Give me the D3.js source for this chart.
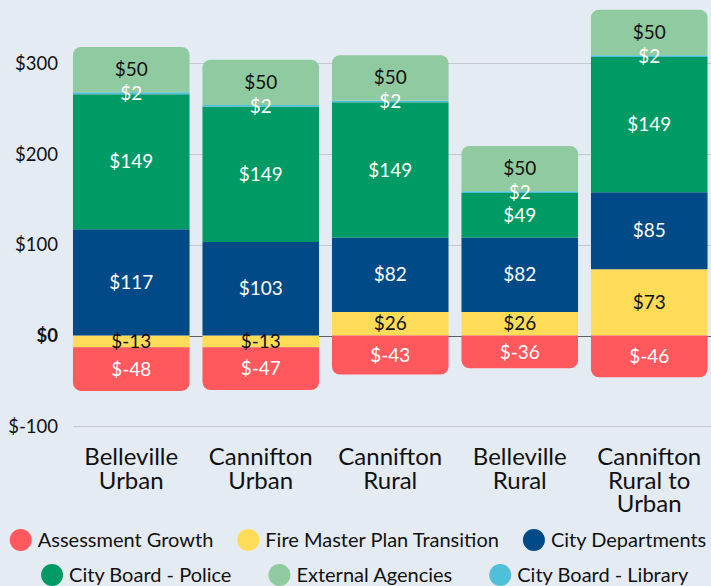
<!DOCTYPE html>
<html>
<head>
<script src="https://d3js.org/d3.v7.min.js"></script>
<style>
  html, body { margin: 0; padding: 0; background: #e4ebf3; }
  svg { display: block; font-family: "Lato", "Noto Sans", sans-serif; }
</style>
</head>
<body>
<svg width="711" height="586"></svg>
<script>
"use strict";

// data
var categories = ["Belleville Urban", "Cannifton Urban", "Cannifton Rural", "Belleville Rural", "Cannifton Rural to Urban"];
var assessmentGrowth = [-48, -47, -43, -36, -46];
var fireMasterPlan   = [-13, -13, 26, 26, 73];
var cityDepartments  = [117, 103, 82, 82, 85];
var cityPolice       = [149, 149, 149, 49, 149];
var cityLibrary      = [2, 2, 2, 2, 2];
var externalAgencies = [50, 50, 50, 50, 50];
var yTicks = [-100, 0, 100, 200, 300];

var series = [
    {key: "Fire Master Plan Transition", values: fireMasterPlan, color: "#ffdc57", text: "#111"},
    {key: "City Departments", values: cityDepartments, color: "#004b87", text: "#fff"},
    {key: "City Board - Police", values: cityPolice, color: "#009a64", text: "#fff"},
    {key: "City Board - Library", values: cityLibrary, color: "#50bfd8", text: "#fff"},
    {key: "External Agencies", values: externalAgencies, color: "#90caa0", text: "#111"},
    {key: "Assessment Growth", values: assessmentGrowth, color: "#ff585d", text: "#fff"}
];
var legendRows = [
    ["Assessment Growth", "Fire Master Plan Transition", "City Departments"],
    ["City Board - Police", "External Agencies", "City Board - Library"]
];

var svg = d3.select("svg");
var byKey = {};
series.forEach(s => byKey[s.key] = s);

var rows = categories.map((c, i) => {
    var r = {cat: c};
    series.forEach(s => r[s.key] = s.values[i]);
    return r;
});

var stacked = d3.stack()
    .keys(series.map(s => s.key))
    .offset(d3.stackOffsetDiverging)(rows);

var x = d3.scaleBand().domain(categories).range([66.5, 714]).paddingInner(0.1).paddingOuter(0.05);
var y = d3.scaleLinear().domain([-100, 300]).range([426.3, 63.3]);

// grid
svg.append("g").selectAll("line").data(yTicks).enter().append("line")
    .attr("x1", 73).attr("x2", 711)
    .attr("y1", d => Math.round(y(d)) + 0.5).attr("y2", d => Math.round(y(d)) + 0.5)
    .attr("stroke", d => d === 0 ? "#5d6166" : "#c3c8d0")
    .attr("stroke-width", 1);

svg.append("g").selectAll("text").data(yTicks).enter().append("text")
    .attr("x", 58).attr("y", d => y(d)).attr("dy", "0.35em")
    .attr("text-anchor", "end")
    .attr("font-size", 18.5)
    .attr("font-weight", d => d === 0 ? 700 : 400)
    .attr("fill", "#111")
    .text(d => "$" + d);

// find top / bottom segment per bar for rounding
var topKey = {}, botKey = {};
categories.forEach((c, i) => {
    var hi = -Infinity, lo = Infinity;
    stacked.forEach(s => {
        var d = s[i];
        if (d[1] - d[0] === 0) return;
        if (Math.max(d[0], d[1]) > hi) { hi = Math.max(d[0], d[1]); topKey[c] = s.key; }
        if (Math.min(d[0], d[1]) < lo) { lo = Math.min(d[0], d[1]); botKey[c] = s.key; }
    });
});

function segPath(x0, w, yt, yb, rt, rb) {
    return "M" + x0 + "," + (yt + rt) +
        (rt ? "A" + rt + "," + rt + " 0 0 1 " + (x0 + rt) + "," + yt : "") +
        "L" + (x0 + w - rt) + "," + yt +
        (rt ? "A" + rt + "," + rt + " 0 0 1 " + (x0 + w) + "," + (yt + rt) : "") +
        "L" + (x0 + w) + "," + (yb - rb) +
        (rb ? "A" + rb + "," + rb + " 0 0 1 " + (x0 + w - rb) + "," + yb : "") +
        "L" + (x0 + rb) + "," + yb +
        (rb ? "A" + rb + "," + rb + " 0 0 1 " + x0 + "," + (yb - rb) : "") + "Z";
}

var R = 8;
var layer = svg.append("g").selectAll("g").data(stacked).enter().append("g")
    .attr("fill", s => byKey[s.key].color);

layer.selectAll("path").data(s => s.map(d => ({key: s.key, d: d, cat: d.data.cat}))).enter()
    .filter(e => e.d[1] !== e.d[0])
    .append("path")
    .attr("d", e => {
        var yt = y(Math.max(e.d[0], e.d[1])), yb = y(Math.min(e.d[0], e.d[1]));
        return segPath(x(e.cat), x.bandwidth(), yt, yb,
            topKey[e.cat] === e.key ? R : 0, botKey[e.cat] === e.key ? R : 0);
    });

// value labels
var labels = svg.append("g");
stacked.forEach(s => {
    s.forEach(d => {
        var v = d.data[s.key];
        labels.append("text")
            .attr("x", x(d.data.cat) + x.bandwidth() / 2)
            .attr("y", y((d[0] + d[1]) / 2))
            .attr("dy", "0.35em")
            .attr("text-anchor", "middle")
            .attr("font-size", 19)
            .attr("fill", byKey[s.key].text)
            .text("$" + v);
    });
});

// category labels, wrapped to the band width, one text per line
var measure = svg.append("text").attr("font-size", 24).attr("visibility", "hidden");
function textWidth(s) { measure.text(s); return measure.node().getComputedTextLength(); }

var xg = svg.append("g");
categories.forEach(c => {
    var lines = [], line = [];
    c.split(" ").forEach(w => {
        line.push(w);
        if (textWidth(line.join(" ")) > x.bandwidth() && line.length > 1) {
            line.pop();
            lines.push(line.join(" "));
            line = [w];
        }
    });
    lines.push(line.join(" "));
    xg.selectAll(null).data(lines).enter().append("text")
        .attr("x", x(c) + x.bandwidth() / 2)
        .attr("y", (d, i) => 465 + i * 23.5)
        .attr("text-anchor", "middle")
        .attr("font-size", 24)
        .attr("fill", "#111")
        .text(d => d);
});
measure.remove();

// legend
var legendY = [540, 575];
var legendGap = [24, 37];
var legendMid = [358, 365];
legendRows.forEach((row, ri) => {
    var g = svg.append("g");
    var items = g.selectAll("g").data(row).enter().append("g");
    items.append("circle").attr("r", 11).attr("cy", 0).attr("fill", k => byKey[k].color);
    items.append("text").attr("x", 17).attr("dy", "0.35em")
        .attr("font-size", 20).attr("fill", "#111").text(k => k);
    var widths = [];
    items.each(function() { widths.push(this.getBBox().width); });
    var gap = legendGap[ri];
    var total = d3.sum(widths) + gap * (row.length - 1);
    var cx = legendMid[ri] - total / 2 + 11;
    items.attr("transform", (k, i) => {
        var tx = cx + d3.sum(widths.slice(0, i)) + gap * i;
        return "translate(" + tx + "," + legendY[ri] + ")";
    });
});
</script>
</body>
</html>
